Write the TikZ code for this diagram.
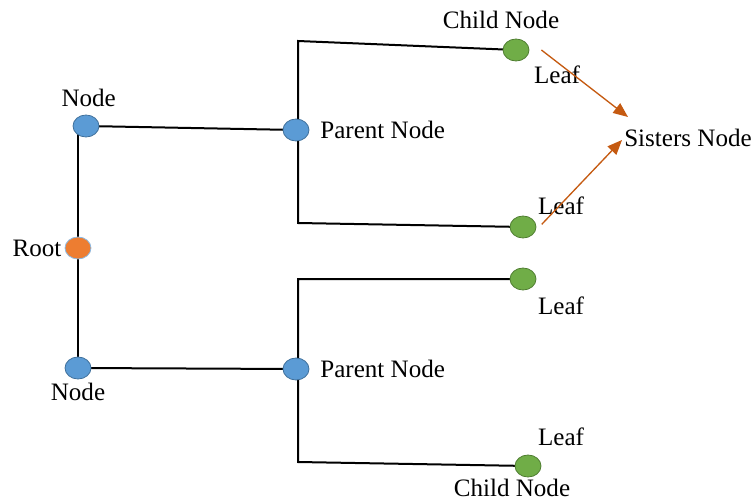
\documentclass[tikz,border=0pt]{standalone}
\usepackage{fontspec}
\setmainfont{Liberation Serif}
\newfontfamily\lblfont{Liberation Serif}
\usetikzlibrary{shapes.geometric, positioning, arrows.meta, backgrounds}
\definecolor{rootorange}{HTML}{ED7D31}
\definecolor{nodeblue}{HTML}{5B9BD5}
\definecolor{nodeblueborder}{HTML}{41719C}
\definecolor{leafgreen}{HTML}{70AD47}
\definecolor{leafgreenborder}{HTML}{507E32}
\definecolor{arroworange}{HTML}{C55A11}
\tikzset{
	treenode/.style={
		ellipse,
		draw=nodeblueborder,
		fill=nodeblue,
		line width=0.6pt,
		inner sep=0pt,
		minimum width=19.5pt,
		minimum height=16.5pt
	},
	rootnode/.style={treenode, fill=rootorange, draw=nodeblue!70},
	leafnode/.style={treenode, fill=leafgreen, draw=leafgreenborder},
	lbl/.style={inner sep=0pt, font=\lblfont\fontsize{18.8}{22}\selectfont},
	branch/.style={draw=black, line width=1.5pt},
	sister/.style={arroworange, line width=1pt, -{Triangle[length=11pt, width=9pt]}}
}

\begin{document}
\begin{tikzpicture}[x=0.75pt, y=-0.75pt]
	\useasboundingbox (0,0) rectangle (755,502);

	% tree nodes
	\node[rootnode] (root) at (78,248) {};
	\node[treenode] (n1) at (86,126) {};
	\node[treenode] (n2) at (78,368) {};
	\node[treenode] (p1) at (296,130) {};
	\node[treenode] (p2) at (296,369) {};
	\node[leafnode] (ch1) at (516,50) {};
	\node[leafnode] (lf2) at (523,227) {};
	\node[leafnode] (lf3) at (523,279) {};
	\node[leafnode] (ch4) at (528,466) {};

	% bracket corners
	\coordinate (c1) at (298,41);
	\coordinate (c2) at (298,223);
	\coordinate (c3) at (298,279);
	\coordinate (c4) at (298,462);

	% branches
	\begin{scope}[on background layer]
	\draw[branch] (root |- n1) -- (n2.center);
	\draw[branch] (n1.center) -- (p1.center);
	\draw[branch] (n2.center) -- (p2.center);
	\draw[branch] (ch1.center) -- (c1) -- (c2) -- (lf2.center);
	\draw[branch] (lf3.center) -- (c3) -- (c4) -- (ch4.center);
	\end{scope}

	% labels
	\begin{scope}[every node/.style={lbl}]
	\node[above=5.6pt of n1, xshift=2pt] (n1dsc) {Node};
	\node[below=2.6pt of n2] (n2dsc) {Node};
	\node[left=2.2pt of root] (rootdsc) {Root};
	\node[right=8pt of p1] (p1dsc) {Parent Node};
	\node[right=8pt of p2] (p2dsc) {Parent Node};
	\node (ch1dsc) at (501,20) {Child Node};
	\node (ch1leaf) at (557,75) {Leaf};
	\node (lf2dsc) at (561,206) {Leaf};
	\node (lf3dsc) at (561,306) {Leaf};
	\node (ch4leaf) at (561,437) {Leaf};
	\node (ch4dsc) at (512,488) {Child Node};
	\node (sis) at (688,138) {Sisters Node};
	\end{scope}

	% sisters arrows
	\coordinate (sistip1) at (628,117);
	\coordinate (sistip2) at (622,140);
	\draw[sister] ([xshift=9pt]ch1.east) -- (sistip1);
	\draw[sister] ([xshift=4pt, yshift=2pt]lf2.east) -- (sistip2);
\end{tikzpicture}
\end{document}
